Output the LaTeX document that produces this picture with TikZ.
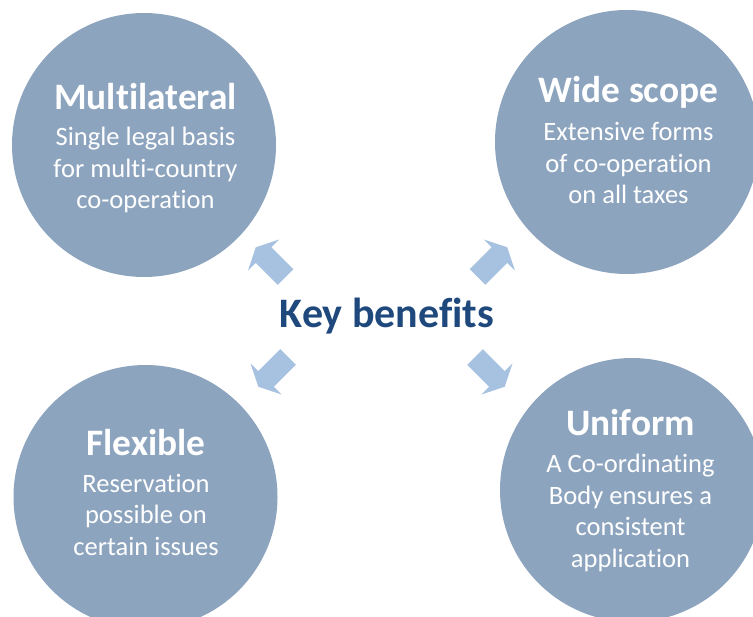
\documentclass[tikz,border=0pt]{standalone}
\usepackage{fontspec}
\setmainfont{Carlito}[Ligatures=NoCommon]

\definecolor{circleFill}{RGB}{141,164,191}
\definecolor{arrowFill}{RGB}{167,193,224}
\definecolor{keyBlue}{RGB}{31,73,125}

\newcommand{\circleSize}{198pt}
\newcommand{\shaftLength}{31}
\newcommand{\shaftHalfWidth}{11}
\newcommand{\headHalfWidth}{22}
\newcommand{\arrowLength}{42}

% block arrow: back x, back y, angle
\newcommand{\benefitArrow}[3]{%
  \fill[arrowFill, shift={(#1,#2)}, rotate=#3]
    (0,-\shaftHalfWidth) -- (\shaftLength,-\shaftHalfWidth) -- (\shaftLength,-\headHalfWidth)
    -- (\arrowLength,0) -- (\shaftLength,\headHalfWidth) -- (\shaftLength,\shaftHalfWidth)
    -- (0,\shaftHalfWidth) -- cycle;
}

\tikzset{
  benefit/.style={circle, fill=circleFill, minimum size=\circleSize, inner sep=0pt},
  benefitTitle/.style={anchor=base, text=white, font=\fontsize{28}{32}\selectfont\bfseries},
  benefitText/.style={anchor=base, text=white, align=center, font=\fontsize{19.9}{23.6}\selectfont},
}

\begin{document}
\begin{tikzpicture}[x=0.75pt, y=-0.75pt]
        \useasboundingbox (0,0) rectangle (753,617);

        % Circles
        \node[benefit] (multi) at (144,145) {};
        \node[benefit] (wide) at (627,142) {};
        \node[benefit] (flex) at (145.5,497) {};
        \node[benefit] (uniform) at (632,490) {};

        % Texts (body nodes sit on the baseline of their last line)
        \node[benefitTitle] (multiTitle) at (145.5,109) {Multilateral};
        \node[benefitText] (multiText) at (145.5,208.5) {Single legal basis\\for multi-country\\co-operation};
        \node[benefitTitle] (wideTitle) at (628.5,103) {Wide scope};
        \node[benefitText] (wideText) at (628.5,203.5) {Extensive forms\\of co-operation\\on all taxes};
        \node[benefitTitle] (flexTitle) at (146,455) {Flexible};
        \node[benefitText] (flexText) at (146,555) {Reservation\\possible on\\certain issues};
        \node[benefitTitle] (uniformTitle) at (630.5,435) {Uniform};
        \node[benefitText] (uniformText) at (630.5,567) {A Co-ordinating\\Body ensures a\\consistent\\application};

        % Centre
        \node[anchor=base, text=keyBlue, font=\fontsize{31.5}{38}\selectfont\bfseries] (key) at (387,327) {Key benefits};

        % Arrows
        \benefitArrow{285.5}{277}{135}
        \benefitArrow{477.5}{277}{45}
        \benefitArrow{288}{357}{225}
        \benefitArrow{475}{357}{315}
\end{tikzpicture}
\end{document}
